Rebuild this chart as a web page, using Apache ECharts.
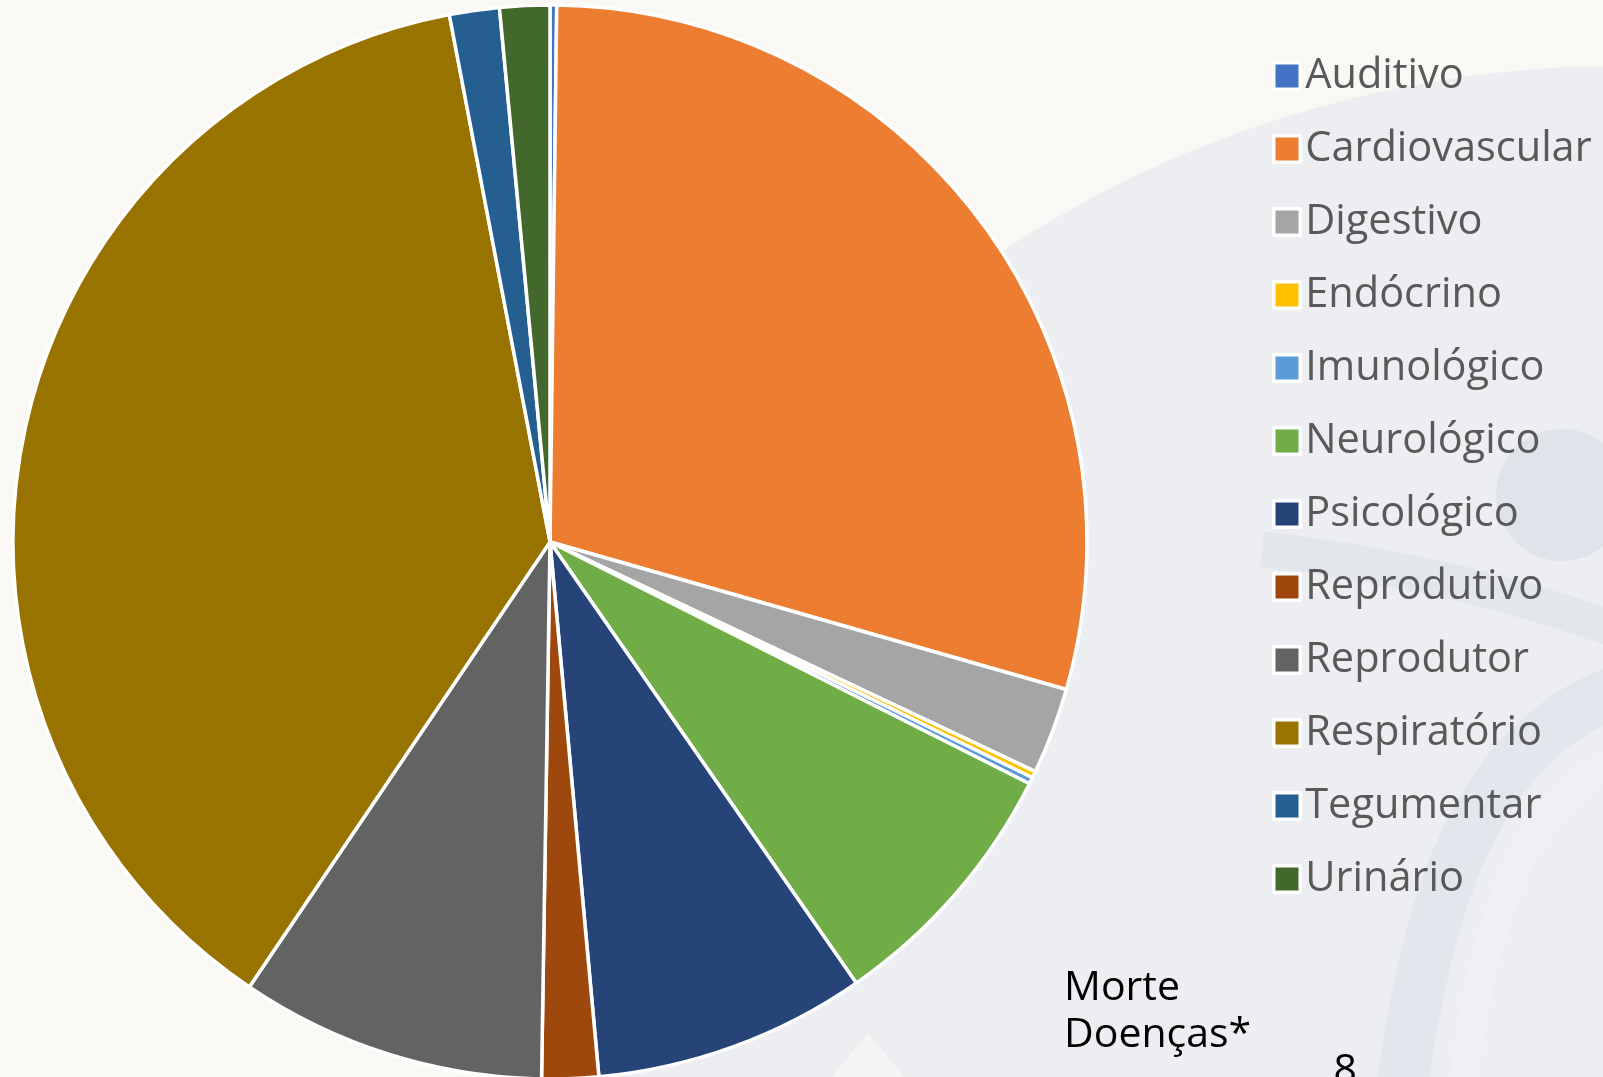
<!DOCTYPE html>
<html>
<head>
<meta charset="utf-8">
<script src="https://cdn.jsdelivr.net/npm/echarts@6/dist/echarts.min.js"></script>
<style>
  html, body { margin: 0; padding: 0; background: #f9f8f5; }
  #chart { width: 1603px; height: 1077px; }
</style>
</head>
<body>
<div id="chart"></div>
<script>
// Body systems and their share of the cases (%)
const categories = ['Auditivo', 'Cardiovascular', 'Digestivo', 'Endócrino', 'Imunológico',
  'Neurológico', 'Psicológico', 'Reprodutivo', 'Reprodutor', 'Respiratório', 'Tegumentar', 'Urinário'];
const shares = [0.2, 29.2, 2.6, 0.2, 0.2, 7.9, 8.2, 1.7, 9.2, 37.5, 1.5, 1.5];
const sliceColors = ['#4472C4', '#ED7D31', '#A5A5A5', '#FFC000', '#5B9BD5', '#70AD47',
  '#264478', '#9E480E', '#636363', '#997300', '#255E91', '#43682B'];
// Side note text
const noteLines = ['Morte', 'Doenças*'];
const noteValue = '8';

const FONT = '"Open Sans", "Noto Sans", sans-serif';

const chart = echarts.init(document.getElementById('chart'), null, { renderer: 'canvas' });

const pieData = categories.map((name, i) => ({
  name: name,
  value: shares[i],
  itemStyle: { color: sliceColors[i] }
}));

// Soft watermark swirl in the slide background
const backdrop = [
  { type: 'circle', z: -10, silent: true,
    shape: { cx: 1620, cy: 1190, r: 1124 },
    style: { fill: '#eceef1' } },
  { type: 'polygon', z: -9, silent: true,
    shape: { points: [[832, 1077], [868, 1033], [904, 1077]] },
    style: { fill: '#f5f5f3' } },
  { type: 'circle', z: -8, silent: true,
    shape: { cx: 1562, cy: 495, r: 66 },
    style: { fill: '#dfe4ea' } },
  { type: 'bezierCurve', z: -8, silent: true,
    shape: { x1: 1262, y1: 549, cpx1: 1380, cpy1: 563, cpx2: 1500, cpy2: 588, x2: 1610, y2: 628 },
    style: { stroke: '#e3e7ec', lineWidth: 36, fill: null, lineCap: 'butt' } },
  { type: 'bezierCurve', z: -8, silent: true,
    shape: { x1: 1402, y1: 1090, cpx1: 1427, cpy1: 900, cpx2: 1477, cpy2: 745, x2: 1615, y2: 692 },
    style: { stroke: '#e3e7ed', lineWidth: 52, fill: null } },
  { type: 'bezierCurve', z: -7, silent: true,
    shape: { x1: 1462, y1: 1090, cpx1: 1482, cpy1: 930, cpx2: 1522, cpy2: 800, x2: 1615, y2: 762 },
    style: { stroke: '#eef0f3', lineWidth: 28, fill: null } }
];

const notes = [
  { type: 'text', z: 10, silent: true, x: 1064, y: 988,
    style: { text: noteLines[0], fill: '#000000', font: '41px ' + FONT, verticalAlign: 'middle' } },
  { type: 'text', z: 10, silent: true, x: 1064, y: 1035,
    style: { text: noteLines[1], fill: '#000000', font: '41px ' + FONT, verticalAlign: 'middle' } },
  { type: 'text', z: 10, silent: true, x: 1333.5, y: 1071,
    style: { text: noteValue, fill: '#000000', font: '41px ' + FONT, verticalAlign: 'middle' } }
];

chart.setOption({
  backgroundColor: '#f9f8f5',
  animation: false,
  graphic: { elements: backdrop.concat(notes) },
  legend: {
    orient: 'vertical',
    left: 1267,
    top: 50,
    itemWidth: 26.5,
    itemHeight: 26.5,
    itemGap: 31,
    itemTextGap: 14,
    icon: 'rect',
    selectedMode: false,
    itemStyle: { borderColor: '#ffffff', borderWidth: 3.5 },
    textStyle: { color: '#595959', fontSize: 41.5, fontFamily: FONT, lineHeight: 42 },
    data: categories
  },
  series: [{
    type: 'pie',
    center: [550, 542],
    radius: 537,
    startAngle: 90,
    clockwise: true,
    avoidLabelOverlap: false,
    label: { show: false },
    labelLine: { show: false },
    emphasis: { disabled: true },
    itemStyle: { borderColor: '#ffffff', borderWidth: 3.5 },
    data: pieData
  }]
});
</script>
</body>
</html>
